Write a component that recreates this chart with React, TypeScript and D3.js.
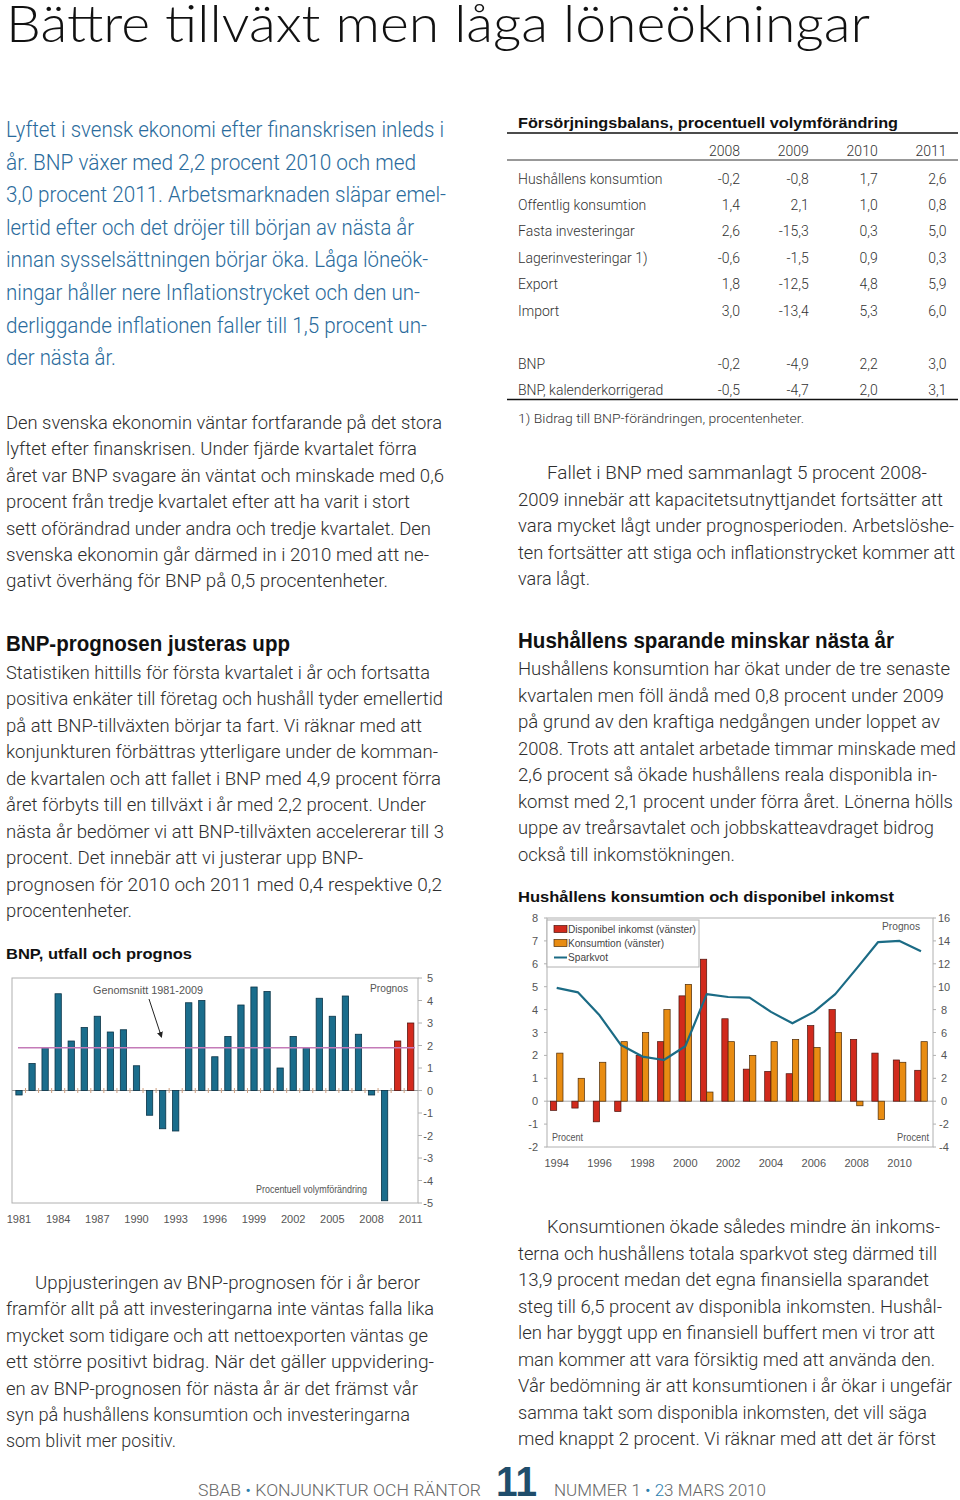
import React from "react";
import * as d3 from "d3";

// ---------- Chart data ----------
const bnpYears = [1981,1982,1983,1984,1985,1986,1987,1988,1989,1990,1991,1992,1993,1994,1995,1996,1997,1998,1999,2000,2001,2002,2003,2004,2005,2006,2007,2008,2009,2010,2011];
const bnpGrowth = [-0.2,1.2,1.9,4.3,2.2,2.8,3.3,2.6,2.7,1.1,-1.1,-1.7,-1.8,3.9,4.0,1.5,2.4,3.8,4.6,4.4,1.0,2.4,1.9,4.1,3.3,4.2,2.5,-0.2,-4.9,2.2,3.0];
const bnpForecastYears = [2010, 2011];
const bnpMean = 1.9;
const bnpXTicks = [1981,1984,1987,1990,1993,1996,1999,2002,2005,2008,2011];
const bnpYTicks = [5,4,3,2,1,0,-1,-2,-3,-4,-5];

const hhYears = [1994,1995,1996,1997,1998,1999,2000,2001,2002,2003,2004,2005,2006,2007,2008,2009,2010,2011];
const hhIncome = [-0.4,-0.3,-0.9,-0.45,2.0,2.6,4.6,6.2,3.6,1.4,1.3,1.2,3.3,4.0,2.7,2.1,1.8,1.35];
const hhConsumption = [2.1,1.0,1.7,2.6,3.0,4.0,5.1,0.4,2.6,2.0,2.6,2.7,2.35,3.0,-0.2,-0.8,1.7,2.6];
const hhSavings = [9.9,9.5,7.5,4.9,3.9,3.6,4.8,9.35,9.1,9.05,7.8,6.8,7.8,9.35,11.6,13.9,14.0,13.1];
const hhXTicks = [1994,1996,1998,2000,2002,2004,2006,2008,2010];
const hhLeftTicks = [8,7,6,5,4,3,2,1,0,-1,-2];
const hhRightTicks = [16,14,12,10,8,6,4,2,0,-2,-4];
const hhLegend = ["Disponibel inkomst (vänster)", "Konsumtion (vänster)", "Sparkvot"];

const tableYears = ["2008", "2009", "2010", "2011"];
const tableLabels = ["Hushållens konsumtion","Offentlig konsumtion","Fasta investeringar","Lagerinvesteringar 1)","Export","Import","","BNP","BNP, kalenderkorrigerad"];
const tableValues = [
  ["-0,2","-0,8","1,7","2,6"],
  ["1,4","2,1","1,0","0,8"],
  ["2,6","-15,3","0,3","5,0"],
  ["-0,6","-1,5","0,9","0,3"],
  ["1,8","-12,5","4,8","5,9"],
  ["3,0","-13,4","5,3","6,0"],
  [],
  ["-0,2","-4,9","2,2","3,0"],
  ["-0,5","-4,7","2,0","3,1"],
];

// ---------- Text ----------
const pageTitle = "Bättre tillväxt men låga löneökningar";
const introLines = [
  "Lyftet i svensk ekonomi efter finanskrisen inleds i",
  "år. BNP växer med 2,2 procent 2010 och med",
  "3,0 procent 2011. Arbetsmarknaden släpar emel-",
  "lertid efter och det dröjer till början av nästa år",
  "innan sysselsättningen börjar öka. Låga löneök-",
  "ningar håller nere Inflationstrycket och den un-",
  "derliggande inflationen faller till 1,5 procent un-",
  "der nästa år.",
];
const introWidths = [438, 410, 440, 408, 422, 414, 421, 110];
const para2Lines = [
  "Den svenska ekonomin väntar fortfarande på det stora",
  "lyftet efter finanskrisen. Under fjärde kvartalet förra",
  "året var BNP svagare än väntat och minskade med 0,6",
  "procent från tredje kvartalet efter att ha varit i stort",
  "sett oförändrad under andra och tredje kvartalet. Den",
  "svenska ekonomin går därmed in i 2010 med att ne-",
  "gativt överhäng för BNP på 0,5 procentenheter.",
];
const para2Widths = [436, 411, 438, 404, 425, 423, 382];
const bnpHeading = "BNP-prognosen justeras upp";
const bnpParaLines = [
  "Statistiken hittills för första kvartalet i år och fortsatta",
  "positiva enkäter till företag och hushåll tyder emellertid",
  "på att BNP-tillväxten börjar ta fart. Vi räknar med att",
  "konjunkturen förbättras ytterligare under de komman-",
  "de kvartalen och att fallet i BNP med 4,9 procent förra",
  "året förbyts till en tillväxt i år med 2,2 procent. Under",
  "nästa år bedömer vi att BNP-tillväxten accelererar till 3",
  "procent. Det innebär att vi justerar upp BNP-",
  "prognosen för 2010 och 2011 med 0,4 respektive 0,2",
  "procentenheter.",
];
const bnpParaWidths = [424, 437, 416, 432, 435, 420, 438, 357, 436, 126];
const bottomLeftLines = [
  "Uppjusteringen av BNP-prognosen för i år beror",
  "framför allt på att investeringarna inte väntas falla lika",
  "mycket som tidigare och att nettoexporten väntas ge",
  "ett större positivt bidrag. När det gäller uppvidering-",
  "en av BNP-prognosen för nästa år är det främst vår",
  "syn på hushållens konsumtion och investeringarna",
  "som blivit mer positiv.",
];
const bottomLeftWidths = [385, 428, 422, 428, 412, 404, 170];
const tableTitle = "Försörjningsbalans, procentuell volymförändring";
const tableNote = "1) Bidrag till BNP-förändringen, procentenheter.";
const falletLines = [
  "Fallet i BNP med sammanlagt 5 procent 2008-",
  "2009 innebär att kapacitetsutnyttjandet fortsätter att",
  "vara mycket lågt under prognosperioden. Arbetslöshe-",
  "ten fortsätter att stiga och inflationstrycket kommer att",
  "vara lågt.",
];
const falletWidths = [380, 425, 436, 437, 72];
const hhHeading = "Hushållens sparande minskar nästa år";
const hhParaLines = [
  "Hushållens konsumtion har ökat under de tre senaste",
  "kvartalen men föll ändå med 0,8 procent under 2009",
  "på grund av den kraftiga nedgången under loppet av",
  "2008. Trots att antalet arbetade timmar minskade med",
  "2,6 procent så ökade hushållens reala disponibla in-",
  "komst med 2,1 procent under förra året. Lönerna hölls",
  "uppe av treårsavtalet och jobbskatteavdraget bidrog",
  "också till inkomstökningen.",
];
const hhParaWidths = [432, 426, 422, 438, 419, 435, 416, 217];
const bottomRightLines = [
  "Konsumtionen ökade således mindre än inkoms-",
  "terna och hushållens totala sparkvot steg därmed till",
  "13,9 procent medan det egna finansiella sparandet",
  "steg till 6,5 procent av disponibla inkomsten. Hushål-",
  "len har byggt upp en finansiell buffert men vi tror att",
  "man kommer att vara försiktig med att använda den.",
  "Vår bedömning är att konsumtionen i år ökar i ungefär",
  "samma takt som disponibla inkomsten, det vill säga",
  "med knappt 2 procent. Vi räknar med att det är först",
];
const bottomRightWidths = [393, 419, 411, 424, 417, 417, 434, 409, 418];

const FONT = "'Liberation Sans', Arial, sans-serif";
const BODY_FONT = "Roboto, 'Liberation Sans', Arial, sans-serif";
const TEXT = "#2e2e2e";
const BLUE_TEXT = "#2a6b9c";

function Para({ lines, widths, x, firstX, y0, dy, size, fill = TEXT }: any) {
  return (
    <g fontFamily={BODY_FONT} fontWeight={300}>
      {lines.map((t: string, i: number) => (
        <text key={i} x={i === 0 && firstX != null ? firstX : x} y={y0 + i * dy} fontSize={size}
          fill={fill} textLength={widths[i]} lengthAdjust="spacingAndGlyphs">{t}</text>
      ))}
    </g>
  );
}

function BnpChart() {
  const left = 12, right = 418, top = 978, bottom = 1203;
  const x = d3.scaleLinear().domain([1981, 2011]).range([19, 410.7]);
  const y = d3.scaleLinear().domain([-5, 5]).range([bottom, top]);
  const bw = 6.3;
  const step = x(1982) - x(1981);
  return (
    <g fontFamily={FONT}>
      <rect x={left} y={top} width={right - left} height={bottom - top} fill="none" stroke="#b0b0b0" strokeWidth={1} />
      <line x1={left} x2={right} y1={y(0)} y2={y(0)} stroke="#999" strokeWidth={1} />
      {bnpYears.slice(0, -1).map((yr) => (
        <line key={"t" + yr} x1={x(yr) + step / 2} x2={x(yr) + step / 2} y1={y(0) - 2.5} y2={y(0) + 2.5} stroke="#d0a080" strokeWidth={1} />
      ))}
      {bnpYears.map((yr, i) => {
        const v = bnpGrowth[i];
        const fc = bnpForecastYears.includes(yr);
        return (
          <rect key={yr} x={x(yr) - bw / 2} y={y(Math.max(0, v))} width={bw} height={Math.abs(y(v) - y(0))}
            fill={fc ? "#d42a1e" : "#1a6d8c"} stroke={fc ? "#5a1510" : "#0b3447"} strokeWidth={0.8} />
        );
      })}
      <line x1={18} x2={415} y1={y(bnpMean)} y2={y(bnpMean)} stroke="#c47ab8" strokeWidth={1.5} />
      {bnpYTicks.map((t) => (
        <g key={t}>
          <line x1={right} x2={right + 4} y1={y(t)} y2={y(t)} stroke="#b0b0b0" />
          <text x={433} y={y(t) + 4} fontSize={11} fill="#555" textAnchor="end">{t}</text>
        </g>
      ))}
      {bnpXTicks.map((t) => (
        <text key={t} x={x(t)} y={1223} fontSize={11} fill="#555" textAnchor="middle">{t}</text>
      ))}
      <text x={93} y={994} fontSize={10.5} fill="#555" textLength={110} lengthAdjust="spacingAndGlyphs">Genomsnitt 1981-2009</text>
      <defs>
        <marker id="arr" markerWidth="6" markerHeight="6" refX="5" refY="3" orient="auto">
          <path d="M0,0 L6,3 L0,6 Z" fill="#222" />
        </marker>
      </defs>
      <line x1={149} y1={999} x2={161.5} y2={1037} stroke="#222" strokeWidth={1} markerEnd="url(#arr)" />
      <text x={370} y={991.5} fontSize={10.5} fill="#555" textLength={38} lengthAdjust="spacingAndGlyphs">Prognos</text>
      <text x={256} y={1193} fontSize={10} fill="#555" textLength={111} lengthAdjust="spacingAndGlyphs">Procentuell volymförändring</text>
    </g>
  );
}

function HhChart() {
  const left = 547, right = 933, top = 918, bottom = 1147;
  const x = d3.scaleLinear().domain([1994, 2011]).range([556.7, 921]);
  const yL = d3.scaleLinear().domain([-2, 8]).range([bottom, top]);
  const yR = d3.scaleLinear().domain([-4, 16]).range([bottom, top]);
  const bw = 6.3;
  const line = d3.line<number>().x((_, i) => x(hhYears[i])).y((d) => yR(d));
  return (
    <g fontFamily={FONT}>
      <rect x={left} y={top} width={right - left} height={bottom - top} fill="none" stroke="#b0b0b0" strokeWidth={1} />
      <line x1={left} x2={right} y1={yL(0)} y2={yL(0)} stroke="#aaa" strokeWidth={1} />
      {hhYears.map((yr, i) => {
        const a = hhIncome[i], b = hhConsumption[i];
        return (
          <g key={yr}>
            <rect x={x(yr) - bw} y={yL(Math.max(0, a))} width={bw} height={Math.abs(yL(a) - yL(0))}
              fill="#d12a1c" stroke="#4a130c" strokeWidth={0.7} />
            <rect x={x(yr)} y={yL(Math.max(0, b))} width={bw} height={Math.abs(yL(b) - yL(0))}
              fill="#e88c12" stroke="#4a2a08" strokeWidth={0.7} />
          </g>
        );
      })}
      <path d={line(hhSavings) || ""} fill="none" stroke="#1b6b85" strokeWidth={2.2} strokeLinejoin="round" />
      {hhLeftTicks.map((t) => (
        <g key={"l" + t}>
          <line x1={left - 3} x2={left} y1={yL(t)} y2={yL(t)} stroke="#b0b0b0" />
          <text x={538} y={yL(t) + 4} fontSize={11} fill="#555" textAnchor="end">{t}</text>
        </g>
      ))}
      {hhRightTicks.map((t) => (
        <g key={"r" + t}>
          <line x1={right} x2={right + 3} y1={yR(t)} y2={yR(t)} stroke="#b0b0b0" />
          <text x={944} y={yR(t) + 4} fontSize={11} fill="#555" textAnchor="middle">{t}</text>
        </g>
      ))}
      {hhXTicks.map((t) => (
        <text key={t} x={x(t)} y={1167} fontSize={11} fill="#555" textAnchor="middle">{t}</text>
      ))}
      <rect x={547} y={920} width={152} height={47} fill="#fff" stroke="#b0b0b0" strokeWidth={1} />
      <rect x={554} y={925.5} width={13} height={7} fill="#d12a1c" stroke="#4a130c" strokeWidth={0.7} />
      <rect x={554} y={939.5} width={13} height={7} fill="#e88c12" stroke="#4a2a08" strokeWidth={0.7} />
      <line x1={554} x2={567} y1={957.5} y2={957.5} stroke="#1b6b85" strokeWidth={2} />
      <text x={568} y={932.5} fontSize={10.5} fill="#444" textLength={128} lengthAdjust="spacingAndGlyphs">{hhLegend[0]}</text>
      <text x={568} y={946.5} fontSize={10.5} fill="#444" textLength={96} lengthAdjust="spacingAndGlyphs">{hhLegend[1]}</text>
      <text x={568} y={961} fontSize={10.5} fill="#444" textLength={40} lengthAdjust="spacingAndGlyphs">{hhLegend[2]}</text>
      <text x={882} y={930} fontSize={10.5} fill="#555" textLength={38} lengthAdjust="spacingAndGlyphs">Prognos</text>
      <text x={552} y={1141} fontSize={10} fill="#555" textLength={31} lengthAdjust="spacingAndGlyphs">Procent</text>
      <text x={897} y={1141} fontSize={10} fill="#555" textLength={32} lengthAdjust="spacingAndGlyphs">Procent</text>
    </g>
  );
}

function Table() {
  const colRight = d3.scalePoint<string>().domain(tableYears).range([740, 946.5]);
  const rowY = d3.scaleLinear().domain([0, 8]).range([183.5, 395]);
  return (
    <g fontFamily={FONT}>
      <text x={518} y={128} fontSize={15.5} fontWeight="bold" fill="#111" textLength={380} lengthAdjust="spacingAndGlyphs">{tableTitle}</text>
      <line x1={507} x2={958} y1={133} y2={133} stroke="#111" strokeWidth={1.5} />
      <g fontFamily={BODY_FONT} fontWeight={300} fill="#333">
        {tableYears.map((yr) => (
          <text key={yr} x={colRight(yr)} y={156} fontSize={14} textAnchor="end">{yr}</text>
        ))}
        {tableLabels.map((lab, i) => (
          <g key={i}>
            <text x={518} y={rowY(i)} fontSize={14}>{lab}</text>
            {tableValues[i].map((v, j) => (
              <text key={j} x={colRight(tableYears[j])} y={rowY(i)} fontSize={14} textAnchor="end">{v}</text>
            ))}
          </g>
        ))}
        <text x={518} y={423} fontSize={13.5} textLength={286} lengthAdjust="spacingAndGlyphs">{tableNote}</text>
      </g>
      <line x1={507} x2={958} y1={160} y2={160} stroke="#333" strokeWidth={1} />
      <line x1={507} x2={958} y1={399.5} y2={399.5} stroke="#111" strokeWidth={1.5} />
    </g>
  );
}

export default function App() {
  return (
    <svg width={960} height={1500} style={{ position: "absolute", left: 0, top: 0, background: "#fff" }}
      fontFamily={FONT}>
      <rect x={0} y={0} width={960} height={1500} fill="#fff" />
      <text x={6} y={42} fontSize={51} fill="#111" fontFamily="Lato, 'Liberation Sans', sans-serif" fontWeight={300}
        textLength={864} lengthAdjust="spacingAndGlyphs">{pageTitle}</text>

      <Para lines={introLines} widths={introWidths} x={6} y0={137} dy={32.6} size={22} fill={BLUE_TEXT} />
      <Para lines={para2Lines} widths={para2Widths} x={6} y0={429} dy={26.4} size={19} />
      <text x={6} y={651} fontSize={21.5} fontWeight="bold" fill="#111" textLength={284} lengthAdjust="spacingAndGlyphs">{bnpHeading}</text>
      <Para lines={bnpParaLines} widths={bnpParaWidths} x={6} y0={678.5} dy={26.5} size={19} />
      <text x={6} y={958.5} fontSize={15.5} fontWeight="bold" fill="#111" textLength={186} lengthAdjust="spacingAndGlyphs">BNP, utfall och prognos</text>
      <BnpChart />
      <Para lines={bottomLeftLines} widths={bottomLeftWidths} x={6} firstX={35} y0={1289} dy={26.4} size={19} />

      <Table />
      <Para lines={falletLines} widths={falletWidths} x={518} firstX={547} y0={479} dy={26.5} size={19} />
      <text x={518} y={648} fontSize={21.5} fontWeight="bold" fill="#111" textLength={376} lengthAdjust="spacingAndGlyphs">{hhHeading}</text>
      <Para lines={hhParaLines} widths={hhParaWidths} x={518} y0={675} dy={26.5} size={19} />
      <text x={518} y={902} fontSize={15.5} fontWeight="bold" fill="#111" textLength={376} lengthAdjust="spacingAndGlyphs">Hushållens konsumtion och disponibel inkomst</text>
      <HhChart />
      <Para lines={bottomRightLines} widths={bottomRightWidths} x={518} firstX={547} y0={1233} dy={26.5} size={19} />

      <text x={198} y={1496} fontSize={16} fill="#666" fontFamily={BODY_FONT} fontWeight={300} textLength={283} lengthAdjust="spacingAndGlyphs">
        SBAB <tspan fill="#2c7fb0">•</tspan> KONJUNKTUR OCH RÄNTOR
      </text>
      <text x={496} y={1496} fontSize={42} fontWeight="bold" fill="#1f4d6b" textLength={41} lengthAdjust="spacingAndGlyphs">11</text>
      <text x={554} y={1496} fontSize={16} fill="#666" fontFamily={BODY_FONT} fontWeight={300} textLength={212} lengthAdjust="spacingAndGlyphs">
        NUMMER 1 <tspan fill="#2c7fb0">• 2</tspan>3 MARS 2010
      </text>
    </svg>
  );
}
